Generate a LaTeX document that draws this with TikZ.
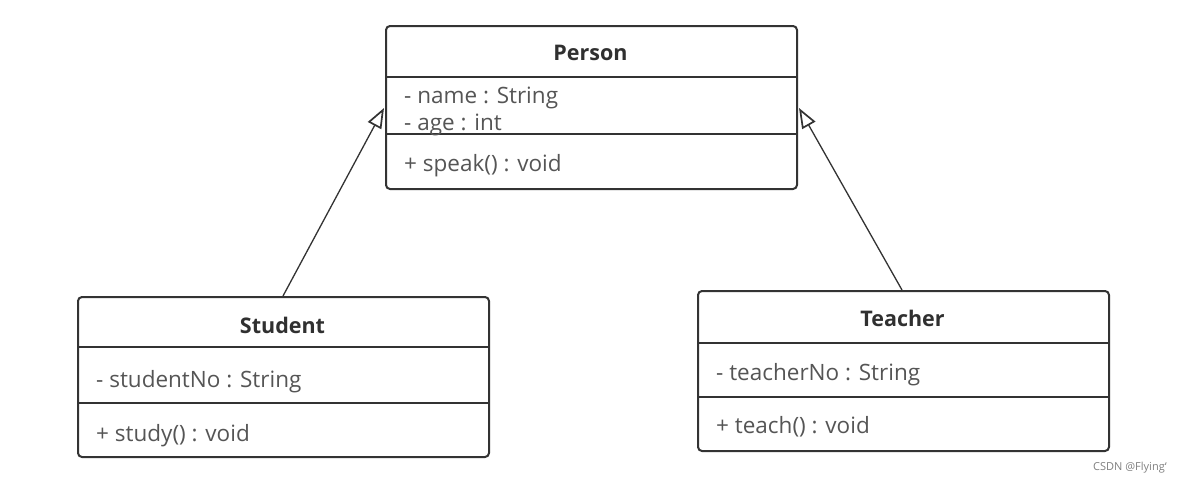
\documentclass[tikz,border=0pt]{standalone}
\usepackage{fontspec}
\setmainfont{Open Sans}
\usetikzlibrary{arrows.meta,calc}
\definecolor{edge}{HTML}{333333}
\definecolor{body}{HTML}{555555}
\definecolor{head}{HTML}{303030}
\tikzset{
  x=1pt,y=-1pt,
  umlbox/.style={draw=edge,line width=2pt,rounded corners=4pt,minimum width=411pt,anchor=north west,inner sep=0pt},
  divider/.style={draw=edge,line width=2pt},
  title/.style={font=\fontsize{21.5}{24}\selectfont\bfseries,text=head,anchor=base},
  member/.style={font=\fontsize{22.5}{26}\selectfont,text=body,anchor=base west,inner sep=0pt},
  gen/.style={draw=edge,line width=1.3pt,-{Triangle[open,length=20pt,width=15pt,line width=1.7pt,fill=white]}},
  wmark/.style={font=\fontsize{11}{13}\selectfont,text=gray,anchor=base west,inner sep=0pt}
}
\begin{document}
\begin{tikzpicture}
\useasboundingbox[fill=white] (0,0) rectangle (1191,482);
% Person
\node[umlbox,minimum height=163pt] (person) at (385,25) {};
\draw[divider] (385,77) -- (796,77);
\draw[divider] (385,134) -- (796,134);
\node[title] (ptitle) at (590.5,60) {Person};
\node[member] (pname) at (404,103) {- name : String};
\node[member] (page) at (404,130) {- age : int};
\node[member] (pspeak) at (404,171) {+ speak() : void};
% Student
\node[umlbox,minimum height=160pt] (student) at (77,296) {};
\draw[divider] (77,347) -- (488,347);
\draw[divider] (77,403) -- (488,403);
\node[title] (stitle) at (282.5,333) {Student};
\node[member] (sno) at (96,387) {- studentNo : String};
\node[member] (sstudy) at (96,441) {+ study() : void};
% Teacher
\node[umlbox,minimum height=160pt] (teacher) at (697,290) {};
\draw[divider] (697,343) -- (1108,343);
\draw[divider] (697,397) -- (1108,397);
\node[title] (ttitle) at (902.5,326) {Teacher};
\node[member] (tno) at (716,380) {- teacherNo : String};
\node[member] (tteach) at (716,433) {+ teach() : void};
% connectors
\coordinate (sTop) at ($(student.north west)+(206,0)$);
\coordinate (tTop) at ($(teacher.north west)+(205,0)$);
\coordinate (pL) at ($(person.north west)+(-1,83)$);
\coordinate (pR) at ($(person.north east)+(1,83)$);
\draw[gen] (sTop) -- (pL);
\draw[gen] (tTop) -- (pR);
% watermark
\node[wmark] (wm) at (1093,470) {CSDN @Flying`};
\end{tikzpicture}
\end{document}
